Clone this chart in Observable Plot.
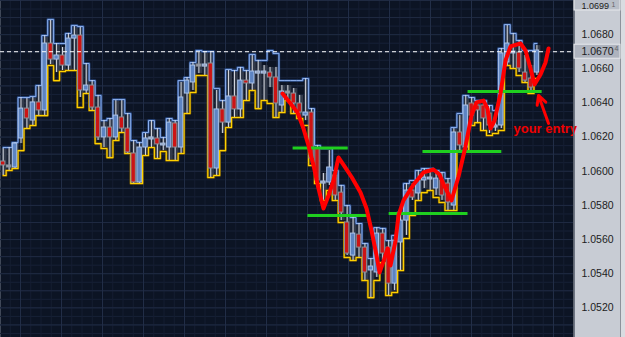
<!DOCTYPE html>
<html><head><meta charset="utf-8">
<script src="https://cdn.jsdelivr.net/npm/d3@7"></script>
<script src="https://cdn.jsdelivr.net/npm/@observablehq/plot@0.6"></script>
<style>html,body{margin:0;padding:0;background:#c8ccd4;}svg{display:block}</style>
</head><body><div id="chart"></div>
<script>
// ---- candle data (EURUSD-like prices) ----
const open = [1.06057,1.06034,1.06022,1.06192,1.06367,1.06297,1.06403,1.06356,1.06748,1.06654,
1.06678,1.06619,1.06777,1.06795,1.06473,1.06502,1.06373,1.06198,1.06256,1.06198,
1.06315,1.06250,1.06104,1.05934,1.06139,1.06186,1.06192,1.06151,1.06139,1.06280,
1.06139,1.06455,1.06520,1.06625,1.06613,1.06631,1.06016,1.06362,1.06285,1.06438,
1.06362,1.06531,1.06514,1.06572,1.06572,1.06578,1.06549,1.06385,1.06467,1.06455,
1.06397,1.06326,1.06344,1.06133,1.05928,1.05934,1.05975,1.05875,1.05700,1.05506,
1.05629,1.05553,1.05419,1.05407,1.05635,1.05553,1.05342,1.05583,1.05711,1.05887,
1.05870,1.05946,1.05952,1.05899,1.05946,1.05928,1.05799,1.06227,1.06139,1.06397,
1.06385,1.06385,1.06338,1.06256,1.06268,1.06637,1.06690,1.06695,1.06578,1.06543,1.06578];
const high = [1.06133,1.06139,1.06168,1.06432,1.06426,1.06432,1.06502,1.06795,1.06883,1.06748,
1.06725,1.06807,1.06848,1.06842,1.06631,1.06531,1.06444,1.06297,1.06309,1.06414,
1.06414,1.06338,1.06180,1.06168,1.06221,1.06297,1.06250,1.06198,1.06309,1.06297,
1.06520,1.06549,1.06637,1.06695,1.06695,1.06695,1.06473,1.06414,1.06590,1.06590,
1.06608,1.06590,1.06678,1.06649,1.06619,1.06608,1.06608,1.06502,1.06502,1.06485,
1.06444,1.06543,1.06367,1.06151,1.05987,1.06121,1.06004,1.05917,1.05799,1.05729,
1.05694,1.05577,1.05489,1.05670,1.05665,1.05594,1.05624,1.05758,1.05928,1.05928,
1.06004,1.06016,1.06004,1.06004,1.05993,1.05957,1.06250,1.06326,1.06444,1.06432,
1.06414,1.06414,1.06385,1.06297,1.06719,1.06854,1.06807,1.06766,1.06678,1.06619,1.06736];
const low = [1.05975,1.06004,1.06016,1.06162,1.06250,1.06268,1.06326,1.06326,1.06625,1.06578,
1.06590,1.06590,1.06590,1.06432,1.06455,1.06356,1.06180,1.06139,1.06080,1.06180,
1.06227,1.06104,1.05928,1.05928,1.06092,1.06139,1.06075,1.06121,1.06063,1.06063,
1.06104,1.06338,1.06473,1.06572,1.06561,1.05963,1.05975,1.06221,1.06256,1.06315,
1.06315,1.06414,1.06473,1.06367,1.06414,1.06490,1.06315,1.06344,1.06414,1.06338,
1.06309,1.06297,1.06045,1.05928,1.05829,1.05917,1.05829,1.05711,1.05506,1.05477,
1.05495,1.05360,1.05260,1.05378,1.05477,1.05272,1.05301,1.05419,1.05624,1.05829,
1.05829,1.05899,1.05887,1.05858,1.05829,1.05770,1.05770,1.06121,1.06121,1.06268,
1.06285,1.06239,1.06221,1.06233,1.06250,1.06619,1.06602,1.06578,1.06520,1.06461,1.06561];
const close = [1.06034,1.06022,1.06162,1.06367,1.06309,1.06403,1.06356,1.06748,1.06654,1.06678,
1.06619,1.06777,1.06795,1.06473,1.06502,1.06373,1.06198,1.06256,1.06198,1.06326,
1.06250,1.06110,1.05934,1.06139,1.06192,1.06198,1.06157,1.06162,1.06285,1.06139,
1.06432,1.06531,1.06619,1.06613,1.06625,1.06016,1.06362,1.06285,1.06438,1.06362,
1.06531,1.06514,1.06584,1.06584,1.06584,1.06549,1.06397,1.06467,1.06455,1.06397,
1.06344,1.06344,1.06075,1.05946,1.05940,1.06022,1.05858,1.05758,1.05518,1.05635,
1.05553,1.05407,1.05442,1.05635,1.05518,1.05342,1.05594,1.05711,1.05887,1.05846,
1.05946,1.05963,1.05963,1.05957,1.05858,1.05817,1.06227,1.06151,1.06385,1.06326,
1.06356,1.06309,1.06268,1.06268,1.06690,1.06748,1.06701,1.06602,1.06531,1.06490,1.06707];
// channel lines (blue upper, yellow lower)
const upper = [1.06139,1.06139,1.06168,1.06432,1.06432,1.06438,1.06502,1.06795,1.06889,1.06748,
1.06748,1.06807,1.06854,1.06848,1.06631,1.06531,1.06444,1.06297,1.06309,1.06420,
1.06420,1.06338,1.06180,1.06168,1.06227,1.06297,1.06250,1.06198,1.06309,1.06297,
1.06531,1.06549,1.06637,1.06707,1.06701,1.06701,1.06485,1.06414,1.06596,1.06590,
1.06608,1.06590,1.06684,1.06649,1.06649,1.06707,1.06690,1.06531,1.06531,1.06531,
1.06531,1.06543,1.06367,1.06151,1.06133,1.06133,1.06004,1.05917,1.05799,1.05729,
1.05694,1.05577,1.05489,1.05670,1.05665,1.05594,1.05624,1.05758,1.05928,1.05946,
1.06004,1.06016,1.06016,1.06004,1.05993,1.05957,1.06256,1.06338,1.06444,1.06432,
1.06414,1.06414,1.06385,1.06356,1.06719,1.06859,1.06807,1.06766,1.06707,1.06707,1.06748];
const lower = [1.05975,1.06004,1.06016,1.06121,1.06250,1.06268,1.06326,1.06326,1.06619,1.06531,
1.06584,1.06590,1.06590,1.06373,1.06455,1.06356,1.06162,1.06133,1.06080,1.06180,
1.06227,1.06104,1.05928,1.05928,1.06092,1.06139,1.06075,1.06116,1.06063,1.06063,
1.06104,1.06338,1.06461,1.06561,1.06561,1.05963,1.05975,1.06121,1.06256,1.06315,
1.06315,1.06414,1.06473,1.06367,1.06414,1.06397,1.06315,1.06344,1.06414,1.06338,
1.06309,1.06268,1.06034,1.05928,1.05829,1.05887,1.05829,1.05700,1.05495,1.05477,
1.05495,1.05360,1.05260,1.05360,1.05465,1.05272,1.05290,1.05419,1.05606,1.05741,
1.05829,1.05875,1.05887,1.05846,1.05817,1.05770,1.05770,1.06121,1.06121,1.06268,
1.06285,1.06239,1.06209,1.06221,1.06239,1.06619,1.06602,1.06561,1.06520,1.06455,1.06543];

// axis labels
const yTicks = [1.0520,1.0540,1.0560,1.0580,1.0600,1.0620,1.0640,1.0660,1.0680];
const lastPrice = 1.0670, lastPip = "4";
const topPrice = 1.0699, topPip = "1";

// hand-drawn annotations (bar index, price)
const pathI = [47.1,48.45,49.63,50.64,51.48,52.33,53.17,54.01,54.86,55.7,56.54,57.56,58.9,60.25,61.27,62.11,62.95,63.46,64.3,64.81,65.31,66.16,66.66,67.5,69.19,70.88,72.56,73.57,74.42,75.6,76.78,77.96,78.97,79.81,81.0,81.67,82.18,82.85,83.86,84.71,85.55,87.24,88.08,88.92,89.6,90.61,91.45,91.96];
const pathP = [1.06455,1.06397,1.06344,1.06250,1.06151,1.06034,1.05899,1.05782,1.05858,1.05946,1.06081,1.06028,1.05958,1.05876,1.05782,1.05653,1.05507,1.05407,1.05489,1.05548,1.05448,1.05594,1.05741,1.05829,1.05922,1.05993,1.06010,1.05981,1.05911,1.05829,1.05969,1.06145,1.06327,1.06403,1.06414,1.06367,1.06250,1.06297,1.06455,1.06649,1.06731,1.06748,1.06707,1.06602,1.06508,1.06567,1.06637,1.06719];
const levelFrom = [48.8,51.3,65.0,70.7,78.3];
const levelTo = [58.1,61.8,78.3,84.0,90.8];
const levelPrice = [1.06136,1.05741,1.05753,1.06116,1.06467];
const arrowFrom = {i: 91.96, p: 1.0628};
const arrowTo = {i: 90.27, p: 1.06444};
const note = {i: 86.05, p: 1.0625, text: "your entry"};

// ---- build ----
const candles = open.map((o, i) => ({i, o, h: high[i], l: low[i], c: close[i], u: upper[i], lo: lower[i]}));
const path = pathI.map((i, k) => ({i, p: pathP[k]}));
const levels = levelFrom.map((a, k) => ({a, b: levelTo[k], p: levelPrice[k]}));

const W = 625, H = 337, MR = 52;
const majX0 = 44.4 - 6.914 * 7;
const gridMajorX = d3.range(majX0, 97, 6.914);
const gridMinorX = d3.range(majX0, 97, 6.914 / 4);
const gridMinorY = d3.range(1.0500, 1.07001, 0.0005);
const gridMajorY = d3.range(1.0500, 1.07001, 0.0010);

function panel(index, scales, values, dims) {
  const g = d3.create("svg:g");
  const x0 = dims.width - dims.marginRight;
  g.append("line").attr("x1", x0 + 0.5).attr("x2", x0 + 0.5).attr("y1", 0).attr("y2", dims.height).attr("stroke", "#5d636e");
  g.append("rect").attr("x", x0 + 47).attr("y", 0).attr("width", 5).attr("height", dims.height).attr("fill", "#d9dce1");
  g.append("line").attr("x1", x0 + 47.5).attr("x2", x0 + 47.5).attr("y1", 0).attr("y2", dims.height).attr("stroke", "#8d929b");
  const yl = scales.y(lastPrice);
  g.append("rect").attr("x", x0 + 1).attr("y", yl - 7).attr("width", 46).attr("height", 14)
    .attr("fill", "#aeb3be").attr("stroke", "#e6e8ec");
  g.append("rect").attr("x", x0 + 1).attr("y", -2).attr("width", 46).attr("height", 12)
    .attr("fill", "#b9bec8").attr("stroke", "#e6e8ec");
  return g.node();
}

const chart = Plot.plot({
  width: W, height: H,
  marginTop: 0, marginBottom: 0, marginLeft: 0, marginRight: MR,
  x: {domain: [-0.455, 96.17], axis: null},
  y: {domain: [1.07 - 337 / 17075, 1.07], axis: null},
  style: {background: "#c8ccd4", color: "#1c1c1c", fontFamily: "'Liberation Sans', Arial, sans-serif", fontSize: "10.5px", overflow: "hidden"},
  marks: [
    Plot.frame({fill: "#0c1424"}),
    Plot.ruleY(gridMinorY, {stroke: "#172137", strokeWidth: 1}),
    Plot.ruleX(gridMinorX, {stroke: "#151e32", strokeWidth: 1}),
    Plot.ruleY(gridMajorY, {stroke: "#1f2a42", strokeWidth: 1}),
    Plot.ruleX(gridMajorX, {stroke: "#222e47", strokeWidth: 1}),
    Plot.ruleX(candles, {x: "i", y1: "l", y2: "h", stroke: "#323a4a", strokeWidth: 5, dx: 1}),
    Plot.line(candles, {x: "i", y: "u", curve: "step", stroke: "#2b4c88", strokeWidth: 2.4}),
    Plot.line(candles, {x: "i", y: "u", curve: "step", stroke: "#8cb0ee", strokeWidth: 1}),
    Plot.line(candles, {x: "i", y: "lo", curve: "step", stroke: "#7d5f08", strokeWidth: 2.4}),
    Plot.line(candles, {x: "i", y: "lo", curve: "step", stroke: "#ffd200", strokeWidth: 1.1}),
    Plot.ruleX(candles, {x: "i", y1: "l", y2: "h", stroke: "#d6d9e0", strokeWidth: 1}),
    Plot.rect(candles, {
      x1: d => d.i - 0.37, x2: d => d.i + 0.37, y1: "o", y2: "c",
      fill: d => Math.abs(d.c - d.o) < 0.00015 ? "#9aa1ae" : (d.c >= d.o ? "#5d84c2" : "#cc1414"),
      stroke: d => d.c >= d.o ? "#a9c2ea" : "#8c9099", strokeWidth: 1
    }),
    Plot.ruleY([lastPrice], {stroke: "#ffffff", strokeDasharray: "4,3", strokeWidth: 1}),
    Plot.link(levels, {x1: "a", x2: "b", y1: "p", y2: "p", stroke: "#1fcf1f", strokeWidth: 3}),
    Plot.line(path, {x: "i", y: "p", stroke: "#ff0000", strokeWidth: 4, strokeLinejoin: "round", strokeLinecap: "round"}),
    Plot.arrow([{a: arrowFrom, b: arrowTo}], {x1: d => d.a.i, y1: d => d.a.p, x2: d => d.b.i, y2: d => d.b.p,
      stroke: "#ff0000", strokeWidth: 3, headLength: 13, headAngle: 55}),
    Plot.text([note], {x: "i", y: "p", text: "text", fill: "#ee0000", fontWeight: "bold", fontSize: 13, textAnchor: "start",
      fontFamily: "'Liberation Sans', Arial, sans-serif"}),
    panel,
    Plot.axisY({anchor: "right", ticks: yTicks, tickSize: 0, tickPadding: 8, tickFormat: d => d.toFixed(4), fill: "#1c1c1c"}),
    Plot.text([lastPrice], {y: d => d, text: d => d.toFixed(4), frameAnchor: "right", dx: 8, textAnchor: "start", fill: "#1c1c1c"}),
    Plot.text([topPrice], {y: d => d, text: d => d.toFixed(4), frameAnchor: "right", dx: 8, dy: 4, textAnchor: "start", fill: "#1c1c1c", fontSize: 9}),
    Plot.text([{p: lastPrice, t: lastPip}], {y: "p", text: "t", frameAnchor: "right", dx: 41, dy: -3, textAnchor: "start", fontSize: 7, fill: "#666"}),
    Plot.text([{p: topPrice, t: topPip}], {y: "p", text: "t", frameAnchor: "right", dx: 38, dy: 3, textAnchor: "start", fontSize: 7, fill: "#666"})
  ]
});
document.getElementById("chart").appendChild(chart);
</script>
</body></html>
